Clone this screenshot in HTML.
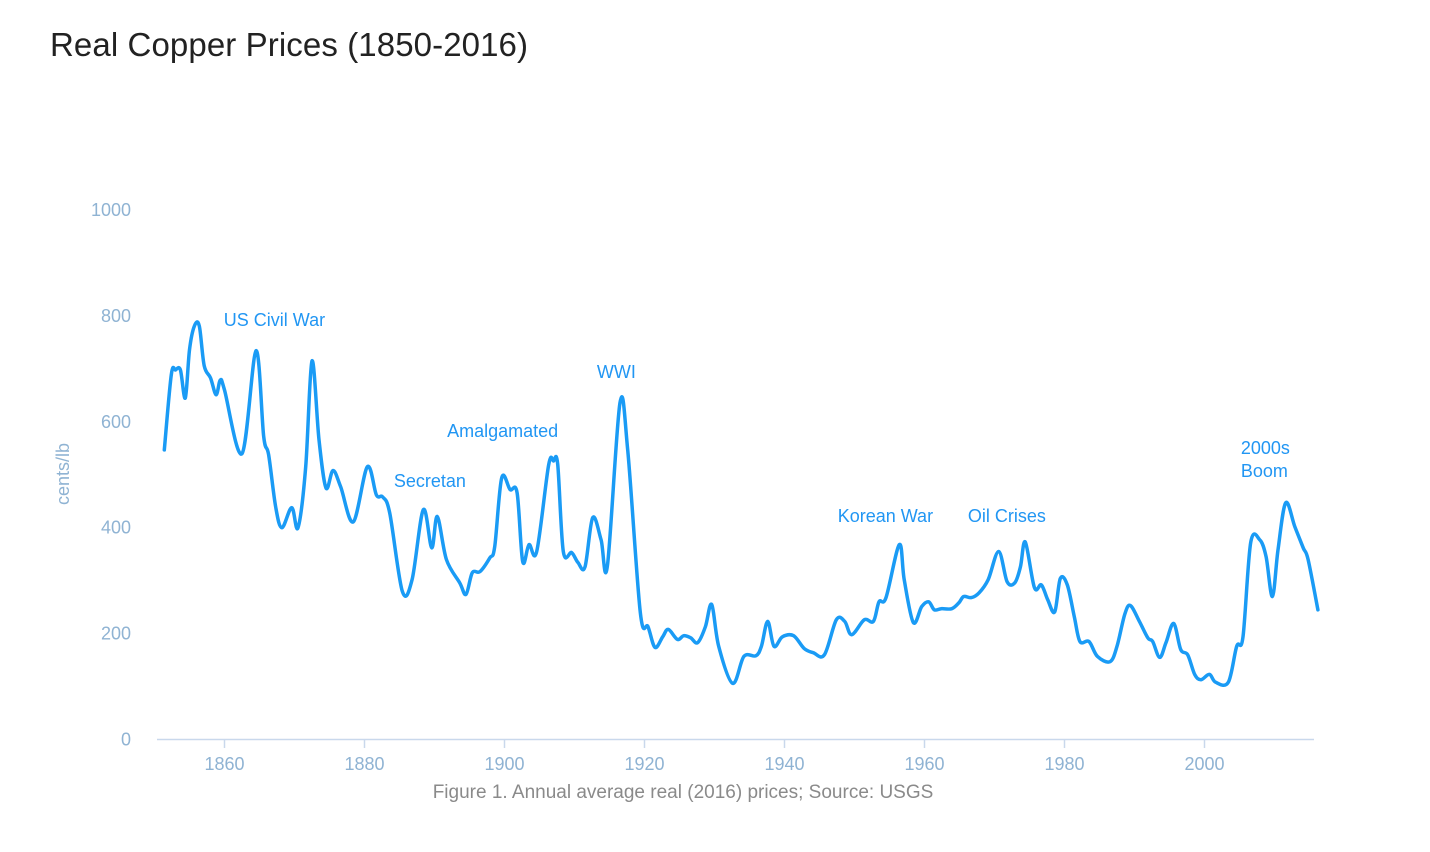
<!DOCTYPE html>
<html><head><meta charset="utf-8"><style>
body{margin:0;background:#fff;width:1430px;height:852px;overflow:hidden}
svg{display:block}
</style></head><body>
<svg width="1430" height="852" font-family="Liberation Sans, sans-serif">
<text x="50" y="56" font-size="33" fill="#222" textLength="478">Real Copper Prices (1850-2016)</text>
<g id="yaxis"></g>
<g id="xaxis"></g>
<text transform="translate(69,474) rotate(-90)" text-anchor="middle" font-size="18" fill="#8fb3d3">cents/lb</text>
<path id="line" fill="none" stroke="#1a9bf5" stroke-width="3.5" stroke-linejoin="round" stroke-linecap="round"/>
<g id="annots" font-size="18" fill="#2196f3"></g>
<text x="683" y="798" text-anchor="middle" font-size="19" fill="#8a8a8a">Figure 1. Annual average real (2016) prices; Source: USGS</text>
</svg>
<script>
const years=[1851.4,1852.4,1853,1853.7,1854.4,1855,1855.7,1856.4,1857.1,1858,1858.8,1859.4,1860,1862.5,1864.5,1865.6,1866.3,1867.3,1868.2,1869.6,1870.5,1871.6,1872.5,1873.5,1874.5,1875.5,1876.6,1878.4,1880.4,1881.7,1882.6,1883.6,1885.4,1886.8,1888.4,1889.6,1890.4,1891.7,1893.6,1894.5,1895.4,1896.5,1897.9,1898.6,1899.6,1900.8,1901.8,1902.6,1903.5,1904.6,1906.3,1907,1907.6,1908.4,1909.6,1910.5,1911.5,1912.6,1913.8,1914.7,1916.5,1917.6,1919.4,1920.5,1921.5,1922.6,1923.4,1924.7,1925.6,1926.6,1927.6,1928.7,1929.6,1930.6,1932.6,1934.2,1935.9,1936.7,1937.6,1938.5,1939.7,1941.3,1942.8,1944.1,1945.7,1947.4,1948.6,1949.6,1951.4,1952.7,1953.5,1954.5,1956.4,1957.1,1958.4,1959.6,1960.6,1961.4,1962.4,1963.9,1964.9,1965.6,1966.7,1967.8,1969.1,1970.6,1971.8,1972.9,1973.7,1974.4,1975.7,1976.7,1977.6,1978.6,1979.4,1980.4,1981.4,1982.2,1983.5,1984.7,1986.5,1987.5,1988.6,1989.4,1990.7,1991.9,1992.6,1993.6,1994.5,1995.6,1996.6,1997.6,1998.6,1999.5,2000.7,2001.6,2003.4,2004.6,2005.5,2006.6,2007.9,2008.8,2009.7,2010.5,2011.6,2012.9,2014.1,2014.8,2016.2];
const prices=[547,689,698,698,645,736,781,781,706,683,651,679,660,540,734,572,538,440,400,438,400,515,715,566,475,508,477,411,515,462,458,428,280,302,434,362,421,340,296,274,315,317,343,364,494,472,466,336,368,355,518,526,520,355,353,334,326,419,377,328,636,547,240,213,174,194,208,189,196,192,183,213,255,176,106,157,158,176,223,176,194,196,172,164,160,226,223,198,226,223,260,268,368,302,221,251,260,245,247,247,258,270,268,277,302,355,298,296,326,373,287,292,264,241,304,292,232,185,185,157,147,176,236,253,223,192,185,155,183,219,170,160,123,113,123,108,108,176,194,372,377,345,270,358,447,402,362,340,245];
const yTicks=[0,200,400,600,800,1000];
const xTicks=[1860,1880,1900,1920,1940,1960,1980,2000];
const annotLabels=["US Civil War","Secretan","Amalgamated","WWI","Korean War","Oil Crises","2000s","Boom"];
const annotYears=[1859.9,1884.2,1891.8,1913.2,1947.6,1966.2,2005.2,2005.2];
const annotVals=[781,477,571,683,411,411,539,496];
const NS="http://www.w3.org/2000/svg";
const X=y=>154.5+(y-1850)*7.0;
const Y=v=>739.5-v*0.5295;
function mk(tag,attrs,parent,txt){const e=document.createElementNS(NS,tag);for(const k in attrs)e.setAttribute(k,attrs[k]);if(txt!==undefined)e.textContent=txt;parent.appendChild(e);return e;}
const ya=document.getElementById('yaxis');
yTicks.forEach(t=>{const e=mk('text',{x:131,y:Y(t)+6,'text-anchor':'end','font-size':18,fill:'#8fb3d3'},ya,String(t));

});
const xa=document.getElementById('xaxis');
const ax=mk('line',{x1:157,x2:1314,y1:739.5,y2:739.5,stroke:'#c9d8ec','stroke-width':1.5},xa);


xTicks.forEach(t=>{const l=mk('line',{x1:X(t),x2:X(t),y1:739.5,y2:748,stroke:'#c9d8ec','stroke-width':1.5},xa);


const e=mk('text',{x:X(t),y:770,'text-anchor':'middle','font-size':18,fill:'#8fb3d3'},xa,String(t));

});
const pts=years.map((y,i)=>[X(y),Y(prices[i])]);
let d='M'+pts[0][0].toFixed(1)+','+pts[0][1].toFixed(1);
for(let i=0;i<pts.length-1;i++){const p0=pts[Math.max(0,i-1)],p1=pts[i],p2=pts[i+1],p3=pts[Math.min(pts.length-1,i+2)];
const c1=[p1[0]+(p2[0]-p0[0])/6,p1[1]+(p2[1]-p0[1])/6],c2=[p2[0]-(p3[0]-p1[0])/6,p2[1]-(p3[1]-p1[1])/6];
d+=`C${c1[0].toFixed(1)},${c1[1].toFixed(1)} ${c2[0].toFixed(1)},${c2[1].toFixed(1)} ${p2[0].toFixed(1)},${p2[1].toFixed(1)}`;}
document.getElementById('line').setAttribute('d',d);
const an=document.getElementById('annots');
annotLabels.forEach((s,i)=>{const e=mk('text',{x:X(annotYears[i]),y:Y(annotVals[i])},an,s);

});
</script>
</body></html>
